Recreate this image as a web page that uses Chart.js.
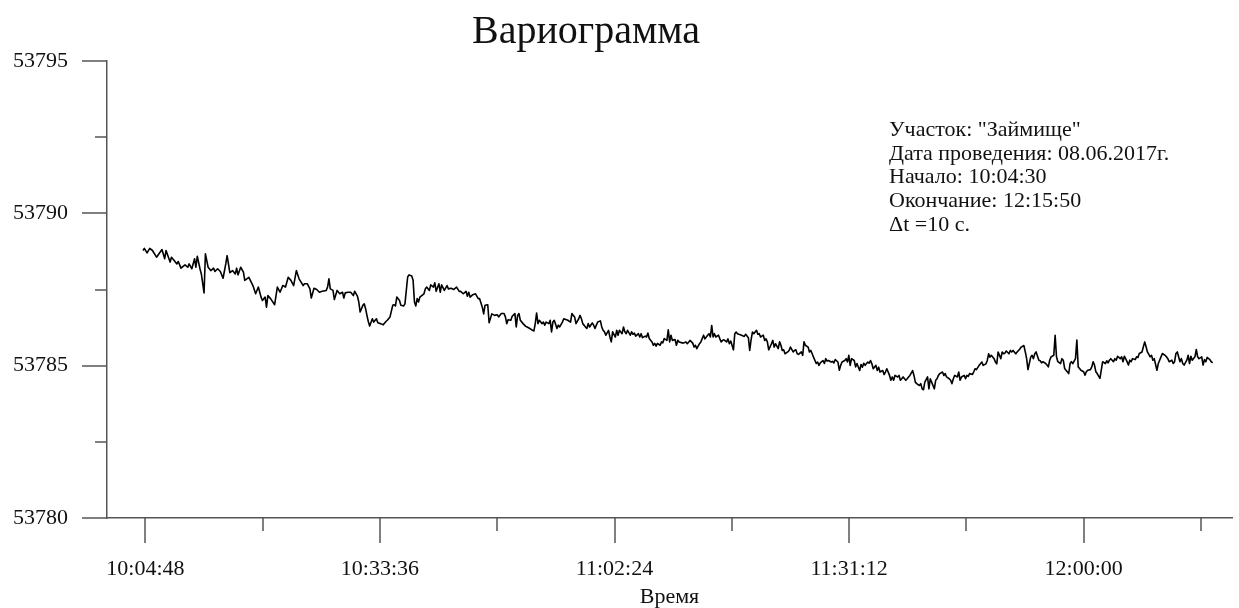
<!DOCTYPE html>
<html>
<head>
<meta charset="utf-8">
<title>Вариограмма</title>
<script src="https://cdn.jsdelivr.net/npm/chart.js@4.4.0/dist/chart.umd.min.js"></script>
<style>
    body { margin: 0; background: #fff; }
    #wrap { width: 1239px; height: 608px; }
</style>
</head>
<body>
<div id="wrap"><canvas id="vario-chart" width="1239" height="608"></canvas></div>
<script>
// samples (seconds since midnight, dt = 10 s)
var timesSec = [
    36270, 36280, 36300, 36320, 36340, 36370, 36410, 36430, 36440, 36470,
    36480, 36500, 36520, 36530, 36550, 36580, 36600, 36610, 36630, 36650,
    36660, 36670, 36690, 36700, 36720, 36730, 36750, 36770, 36790, 36800,
    36820, 36840, 36860, 36880, 36890, 36910, 36930, 36950, 36960, 36970,
    36990, 37010, 37020, 37050, 37080, 37100, 37120, 37140, 37150, 37170,
    37180, 37190, 37210, 37240, 37260, 37280, 37300, 37320, 37340, 37360,
    37380, 37400, 37420, 37450, 37460, 37480, 37500, 37510, 37530, 37550,
    37570, 37590, 37620, 37630, 37640, 37650, 37670, 37680, 37700, 37720,
    37740, 37750, 37760, 37780, 37800, 37820, 37830, 37850, 37860, 37870,
    37890, 37900, 37910, 37920, 37930, 37940, 37960, 37970, 37990, 38000,
    38020, 38040, 38060, 38070, 38090, 38110, 38120, 38130, 38140, 38160,
    38170, 38190, 38200, 38220, 38230, 38250, 38260, 38270, 38280, 38290,
    38300, 38310, 38340, 38350, 38360, 38380, 38390, 38410, 38420, 38430,
    38450, 38460, 38470, 38490, 38510, 38520, 38540, 38560, 38580, 38600,
    38610, 38630, 38650, 38660, 38670, 38680, 38700, 38720, 38740, 38750,
    38770, 38780, 38790, 38810, 38820, 38840, 38860, 38880, 38890,
    38910, 38930, 38940, 38950, 38960, 38980, 38990, 39010, 39020, 39030,
    39040, 39050, 39070, 39090, 39100, 39120, 39140, 39150, 39160, 39170,
    39180, 39190, 39210, 39220, 39230, 39240, 39260, 39270, 39280, 39290,
    39300, 39320, 39330, 39340, 39360, 39370, 39390, 39400, 39420, 39430,
    39440, 39450, 39460, 39480, 39490, 39500, 39510, 39530, 39540, 39550,
    39560, 39580, 39590, 39600, 39610, 39620, 39640, 39650, 39660, 39670,
    39680, 39700, 39710, 39720, 39730, 39750, 39760, 39770, 39780, 39800,
    39810, 39820, 39830, 39840, 39860, 39870, 39880, 39890, 39900, 39920,
    39930, 39940, 39950, 39970, 39980, 39990, 40000, 40020, 40030, 40040,
    40050, 40060, 40080, 40090, 40100, 40110, 40130, 40140, 40150, 40160,
    40170, 40190, 40200, 40210,
    40220, 40250, 40270, 40280, 40300, 40320, 40330, 40340, 40350, 40370,
    40380, 40400, 40410, 40430, 40440, 40450, 40460, 40470, 40480, 40490,
    40510, 40520, 40530, 40540, 40550, 40570, 40580, 40590, 40600, 40620,
    40630, 40640, 40650, 40660, 40680, 40700, 40710, 40730, 40740, 40750,
    40760, 40770, 40790, 40800, 40810, 40820, 40840, 40850, 40860, 40870,
    40880, 40900, 40910, 40920, 40930, 40950, 40960, 40970, 40980, 40990,
    41000, 41020, 41030, 41040, 41060, 41070, 41080, 41090, 41100, 41120,
    41130, 41140, 41150, 41170, 41180, 41190, 41200, 41210, 41230, 41240,
    41250, 41260, 41280, 41290, 41300, 41310, 41320, 41340, 41350, 41360,
    41370, 41390, 41400, 41410, 41420, 41440, 41450, 41460, 41470, 41480,
    41490, 41510, 41520, 41530,
    41550, 41560, 41570, 41580, 41590, 41610, 41620, 41630, 41640, 41650,
    41670, 41680, 41690, 41700, 41720, 41730, 41740, 41750, 41770, 41780,
    41790, 41800, 41810, 41830, 41840, 41850, 41860, 41870, 41890, 41900,
    41910, 41920, 41940, 41950, 41960, 41970, 41990, 42000, 42010, 42020,
    42030, 42050, 42060, 42070, 42080, 42100, 42110, 42120, 42130, 42140,
    42160, 42170, 42180, 42190, 42210, 42220, 42230, 42240, 42250, 42270,
    42280, 42290, 42300, 42320, 42330, 42340, 42350, 42360, 42380, 42390,
    42400, 42410, 42430, 42440, 42450, 42460, 42480, 42490, 42500, 42510,
    42520, 42540, 42550, 42560, 42570, 42590, 42600, 42610, 42620, 42630,
    42650, 42660, 42670, 42680, 42700, 42710, 42720, 42730, 42740, 42760,
    42770, 42780, 42790, 42810, 42820, 42830, 42840, 42850,
    42870, 42880, 42890, 42900, 42920, 42930, 42940, 42950, 42960, 42980,
    42990, 43000, 43010, 43030, 43040, 43050, 43060, 43070, 43090, 43100,
    43110, 43120, 43140, 43150, 43160, 43170, 43180, 43200, 43210, 43220,
    43230, 43250, 43260, 43270, 43280, 43290, 43300, 43320, 43330, 43340,
    43360, 43370, 43380, 43390, 43400, 43420, 43430, 43440, 43450, 43470,
    43480, 43490, 43500, 43520, 43530, 43540, 43550, 43560, 43580, 43590,
    43600, 43610, 43630, 43640, 43650, 43660, 43670, 43690, 43700, 43710,
    43720, 43740, 43750, 43760, 43770, 43780, 43800, 43810, 43820, 43830,
    43850, 43860, 43870, 43880, 43890, 43910, 43920, 43930, 43940, 43960,
    43970, 43980, 43990, 44000, 44020, 44030, 44040, 44050, 44070, 44080,
    44090, 44100, 44110, 44130, 44140, 44150
];

var values = [
    53788.78, 53788.85, 53788.70, 53788.85, 53788.78, 53788.56, 53788.81, 53788.51, 53788.78, 53788.40,
    53788.56, 53788.45, 53788.34, 53788.42, 53788.20, 53788.31, 53788.23, 53788.34, 53788.18, 53788.51,
    53788.23, 53788.59, 53788.18, 53788.01, 53787.39, 53788.67, 53788.23, 53788.12, 53788.20, 53788.09,
    53788.18, 53788.09, 53787.87, 53788.34, 53788.61, 53788.05, 53788.12, 53788.01, 53788.20, 53787.98,
    53788.23, 53788.07, 53787.80, 53787.90, 53787.63, 53787.36, 53787.58, 53787.25, 53787.14, 53787.25,
    53786.92, 53787.30, 53787.20, 53787.00, 53787.58, 53787.41, 53787.63, 53787.58, 53787.90, 53787.80,
    53787.63, 53788.12, 53787.85, 53787.63, 53787.69, 53787.69, 53787.52, 53787.22, 53787.54, 53787.50,
    53787.41, 53787.44, 53787.47, 53787.58, 53787.85, 53787.52, 53787.47, 53787.17, 53787.47, 53787.36,
    53787.41, 53787.22, 53787.39, 53787.41, 53787.41, 53787.30, 53787.44, 53787.28, 53787.09, 53786.76,
    53786.98, 53787.03, 53786.87, 53786.65, 53786.45, 53786.30, 53786.54, 53786.43, 53786.54, 53786.41,
    53786.38, 53786.34, 53786.45, 53786.49, 53786.60, 53786.98, 53787.00, 53786.96, 53787.25, 53787.14,
    53786.98, 53786.96, 53787.03, 53787.91, 53787.98, 53787.94, 53787.80, 53787.09, 53786.96, 53787.20,
    53787.09, 53787.25, 53787.36, 53787.52, 53787.58, 53787.47, 53787.65, 53787.58, 53787.72, 53787.44,
    53787.69, 53787.41, 53787.65, 53787.47, 53787.63, 53787.52, 53787.54, 53787.50, 53787.58, 53787.44,
    53787.44, 53787.36, 53787.44, 53787.28, 53787.41, 53787.25, 53787.33, 53787.36, 53787.20, 53787.20,
    53786.92, 53786.70, 53786.98, 53787.00, 53786.41, 53786.70, 53786.65, 53786.67, 53786.60,
    53786.71, 53786.71, 53786.60, 53786.38, 53786.51, 53786.49, 53786.62, 53786.71, 53786.27, 53786.65,
    53786.71, 53786.49, 53786.38, 53786.29, 53786.27, 53786.22, 53786.16, 53786.14, 53786.38, 53786.73,
    53786.38, 53786.49, 53786.38, 53786.43, 53786.33, 53786.43, 53786.38, 53786.49, 53786.11, 53786.43,
    53786.49, 53786.22, 53786.33, 53786.27, 53786.43, 53786.54, 53786.51, 53786.49, 53786.43, 53786.71,
    53786.65, 53786.60, 53786.38, 53786.54, 53786.65, 53786.54, 53786.38, 53786.27, 53786.22, 53786.38,
    53786.27, 53786.40, 53786.33, 53786.22, 53786.33, 53786.43, 53786.47, 53786.27, 53786.16, 53786.11,
    53786.00, 53786.16, 53785.94, 53785.78, 53786.11, 53785.94, 53786.16, 53786.00, 53786.16, 53786.05,
    53786.27, 53786.11, 53786.05, 53786.16, 53786.00, 53786.11, 53786.03, 53786.07, 53785.97, 53786.05,
    53785.94, 53786.05, 53785.92, 53785.97, 53785.94, 53786.07, 53785.89, 53785.78, 53785.67, 53785.73,
    53785.64, 53785.73, 53785.67, 53785.78, 53785.75, 53785.89, 53785.83, 53786.18, 53785.78, 53786.00,
    53785.83, 53785.86, 53785.67, 53785.83,
    53785.78, 53785.74, 53785.78, 53785.72, 53785.83, 53785.74, 53785.61, 53785.67, 53785.56, 53785.72,
    53785.78, 53786.00, 53785.88, 53786.00, 53786.05, 53785.94, 53786.32, 53785.94, 53786.05, 53785.94,
    53786.00, 53785.88, 53785.78, 53785.83, 53785.85, 53785.78, 53785.88, 53785.72, 53785.81, 53785.52,
    53786.05, 53786.10, 53786.05, 53786.03, 53786.00, 53785.96, 53786.03, 53785.92, 53785.50, 53785.85,
    53786.10, 53786.05, 53786.16, 53786.03, 53786.05, 53785.94, 53786.00, 53785.83, 53785.88, 53785.78,
    53785.52, 53785.72, 53785.83, 53785.61, 53785.72, 53785.56, 53785.78, 53785.67, 53785.50, 53785.52,
    53785.39, 53785.45, 53785.50, 53785.61, 53785.45, 53785.50, 53785.52, 53785.39, 53785.37, 53785.45,
    53785.34, 53785.78, 53785.67, 53785.61, 53785.45, 53785.50, 53785.39, 53785.28, 53785.07, 53785.12,
    53785.01, 53785.09, 53785.17, 53785.07, 53785.23, 53785.15, 53785.17, 53785.12, 53785.14, 53785.09,
    53785.20, 53785.12, 53784.85, 53785.01, 53785.12, 53785.17, 53785.23, 53785.12, 53785.34, 53785.01,
    53785.23, 53785.17, 53784.96, 53785.07,
    53784.84, 53785.04, 53784.95, 53785.08, 53785.01, 53785.12, 53785.08, 53785.17, 53785.06, 53784.90,
    53785.01, 53784.84, 53784.95, 53784.79, 53784.84, 53784.71, 53784.79, 53784.90, 53784.68, 53784.52,
    53784.63, 53784.52, 53784.68, 53784.63, 53784.68, 53784.52, 53784.57, 53784.63, 53784.52, 53784.57,
    53784.63, 53784.68, 53784.84, 53784.68, 53784.46, 53784.41, 53784.35, 53784.41, 53784.24, 53784.21,
    53784.46, 53784.63, 53784.24, 53784.57, 53784.46, 53784.24, 53784.52, 53784.57, 53784.68, 53784.74,
    53784.79, 53784.68, 53784.74, 53784.63, 53784.57, 53784.52, 53784.41, 53784.57, 53784.68, 53784.63,
    53784.79, 53784.52, 53784.63, 53784.68, 53784.57, 53784.68, 53784.65, 53784.74, 53784.71, 53784.79,
    53784.90, 53784.87, 53785.01, 53785.06, 53785.12, 53785.01, 53785.06, 53785.17, 53785.39, 53785.28,
    53785.34, 53785.23, 53785.12, 53785.06, 53785.45, 53785.23, 53785.45, 53785.39, 53785.41, 53785.48,
    53785.39, 53785.50, 53785.45, 53785.50, 53785.39, 53785.45, 53785.50, 53785.55, 53785.61, 53785.66,
    53785.45, 53785.23, 53784.87, 53785.28, 53785.34, 53785.23, 53785.39, 53785.45,
    53785.18, 53785.16, 53785.09, 53785.13, 53785.07, 53785.02, 53784.96, 53785.18, 53785.29, 53785.34,
    53786.00, 53785.29, 53785.13, 53785.07, 53785.23, 53785.18, 53784.91, 53784.85, 53784.74, 53785.07,
    53785.13, 53785.07, 53785.23, 53785.84, 53784.96, 53784.91, 53784.85, 53784.80, 53784.69, 53784.80,
    53784.85, 53784.87, 53784.96, 53785.13, 53785.02, 53784.80, 53784.74, 53784.58, 53784.85, 53785.13,
    53785.07, 53785.16, 53785.09, 53785.18, 53785.23, 53785.13, 53785.23, 53785.18, 53785.31, 53785.23,
    53785.29, 53785.13, 53785.31, 53785.13, 53785.02, 53785.18, 53785.13, 53785.23, 53785.20, 53785.29,
    53785.27, 53785.40, 53785.45, 53785.62, 53785.78, 53785.62, 53785.45, 53785.29, 53785.34, 53785.18,
    53785.23, 53784.85, 53785.07, 53785.18, 53785.29, 53785.40, 53785.34, 53785.29, 53785.23, 53785.13,
    53785.18, 53785.07, 53785.13, 53785.40, 53785.45, 53785.13, 53785.23, 53785.07, 53785.02, 53785.18,
    53785.34, 53785.07, 53785.31, 53785.18, 53785.29, 53785.53, 53785.29, 53785.23, 53785.29, 53785.02,
    53785.20, 53785.13, 53785.27, 53785.20, 53785.13, 53785.09
];

var xTickLabels = ['10:04:48', '10:33:36', '11:02:24', '11:31:12', '12:00:00'];
var yTickLabels = [53795, 53790, 53785, 53780];

var chartTitle = 'Вариограмма';
var xAxisTitle = 'Время';
var infoLines = [
    'Участок: "Займище"',
    'Дата проведения: 08.06.2017г.',
    'Начало: 10:04:30',
    'Окончание: 12:15:50',
    '\u0394t =10 с.'
];

var serif = "'Liberation Serif', 'Times New Roman', serif";
var textColor = '#111';
var axisColor = '#555';

function toSec(s) {
    var p = s.split(':');
    return (+p[0]) * 3600 + (+p[1]) * 60 + (+p[2]);
}

function two(n) {
    return (n < 10 ? '0' : '') + n;
}

function fmtTime(sec) {
    return two(Math.floor(sec / 3600)) + ':' + two(Math.floor(sec / 60) % 60) + ':' + two(sec % 60);
}

// major ticks from the labels, one minor tick halfway between (and after the last one)
var xMajors = xTickLabels.map(toSec);
var xStep = xMajors[1] - xMajors[0];
var xTicks = [];
xMajors.forEach(function (v) {
    xTicks.push(v);
    xTicks.push(v + xStep / 2);
});

var yMajors = yTickLabels.slice();
var yTicks = [];
yMajors.forEach(function (v) {
    yTicks.push(v);
    if (v > 53780) yTicks.push(v - 2.5);
});

var points = timesSec.map(function (t, i) {
    return { x: t, y: values[i] };
});

// title, info block and tick marks (two lengths)
var decor = {
    id: 'decor',
    afterDraw: function (chart) {
        var ctx = chart.ctx;
        var xs = chart.scales.x;
        var ys = chart.scales.y;

        ctx.save();
        ctx.strokeStyle = axisColor;
        ctx.lineWidth = 1.5;
        ctx.beginPath();
        ys.ticks.forEach(function (t) {
            var y = Math.round(ys.getPixelForValue(t.value));
            var len = yMajors.indexOf(t.value) !== -1 ? 25 : 12;
            ctx.moveTo(ys.right - len, y);
            ctx.lineTo(ys.right, y);
        });
        xs.ticks.forEach(function (t) {
            var x = Math.round(xs.getPixelForValue(t.value));
            var len = xMajors.indexOf(t.value) !== -1 ? 25 : 13;
            ctx.moveTo(x, xs.top);
            ctx.lineTo(x, xs.top + len);
        });
        ctx.stroke();

        ctx.fillStyle = textColor;
        ctx.textBaseline = 'alphabetic';
        ctx.textAlign = 'center';
        ctx.font = '40px ' + serif;
        ctx.fillText(chartTitle, 586, 43);

        ctx.textAlign = 'left';
        ctx.font = '22px ' + serif;
        infoLines.forEach(function (line, i) {
            ctx.fillText(line, 889, 136 + i * 23.7);
        });
        ctx.restore();
    }
};

var ctx = document.getElementById('vario-chart').getContext('2d');

var varioChart = new Chart(ctx, {
    type: 'line',
    data: {
        datasets: [{
            data: points,
            borderColor: '#000',
            borderWidth: 1.6,
            borderJoinStyle: 'round',
            pointRadius: 0,
            tension: 0,
            fill: false
        }]
    },
    options: {
        responsive: false,
        animation: false,
        devicePixelRatio: 1,
        layout: {
            padding: { top: 61, right: 3, left: 0, bottom: 0 }
        },
        plugins: {
            legend: { display: false },
            tooltip: { enabled: false }
        },
        scales: {
            x: {
                type: 'linear',
                min: 36005,
                max: 44293,
                afterBuildTicks: function (scale) {
                    scale.ticks = xTicks.map(function (v) { return { value: v }; });
                },
                afterFit: function (scale) {
                    scale.height = 90;
                },
                grid: { display: false, drawTicks: false },
                border: { display: true, color: axisColor, width: 1.5 },
                ticks: {
                    autoSkip: false,
                    maxRotation: 0,
                    padding: 38,
                    color: textColor,
                    font: { family: serif, size: 22 },
                    callback: function (value) {
                        return xMajors.indexOf(value) !== -1 ? fmtTime(value) : '';
                    }
                },
                title: {
                    display: true,
                    text: xAxisTitle,
                    color: textColor,
                    font: { family: serif, size: 22, lineHeight: 1 },
                    padding: 0
                }
            },
            y: {
                min: 53780,
                max: 53795,
                afterBuildTicks: function (scale) {
                    scale.ticks = yTicks.map(function (v) { return { value: v }; });
                },
                afterFit: function (scale) {
                    scale.width = 107;
                },
                grid: { display: false, drawTicks: false },
                border: { display: true, color: axisColor, width: 1.5 },
                ticks: {
                    autoSkip: false,
                    padding: 39,
                    color: textColor,
                    font: { family: serif, size: 22 },
                    callback: function (value) {
                        return yMajors.indexOf(value) !== -1 ? String(value) : '';
                    }
                }
            }
        }
    },
    plugins: [decor]
});
</script>
</body>
</html>
